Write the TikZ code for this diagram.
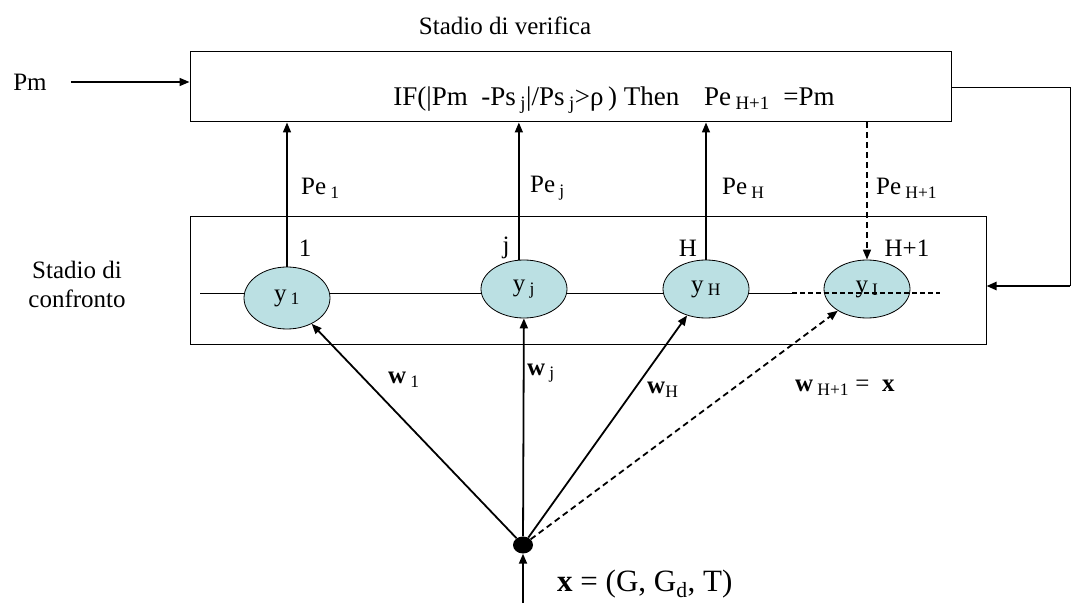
\documentclass[tikz,border=0pt]{standalone}
\usepackage{fontspec}
\setmainfont{Liberation Serif}
\usetikzlibrary{arrows.meta,shapes.geometric,calc}
\definecolor{cellfill}{RGB}{187,224,227}
\begin{document}
\begin{tikzpicture}[x=1pt,y=-1pt,
  lbl/.style={font=\fontsize{25}{29}\selectfont, inner sep=0pt},
  box/.style={draw, line width=1pt, inner sep=0pt},
  cell/.style={ellipse, draw, line width=0.8pt, fill=cellfill, minimum width=86pt, minimum height=58pt, inner sep=0pt, font=\fontsize{25}{29}\selectfont},
  arr/.style={line width=1.8pt, -{Triangle[length=10pt,width=8pt]}},
  darr/.style={arr, dash pattern=on 6pt off 4pt},
]
\useasboundingbox (0,0) rectangle (1072,604);
% boxes
\node[box, minimum width=761pt, minimum height=70pt] (ver) at (570.5,87) {};
\node[box, minimum width=796pt, minimum height=128pt] (conf) at (588,281) {};
% titles
\node[lbl] (tver) at (505,26) {Stadio di verifica};
\node[lbl, align=center] (tconf) at (77,284) {Stadio di\\confronto};
\node[lbl] (pm) at (30,82) {Pm};
\node[lbl, font=\fontsize{27}{31}\selectfont] (eq) at (614,100) {IF(|Pm\enspace -Ps\,\textsubscript{j}|/Ps\,\textsubscript{j}>ρ\,) Then\enspace\, Pe\,\textsubscript{H+1}\enspace =Pm};
% horizontal line
\coordinate (h0) at (200,293);
\coordinate (h1) at (792,293);
\coordinate (h2) at (940,293);
\draw[line width=0.8pt] (h0) -- (h1);
% cells
\node[cell, minimum height=62pt] (y1) at (287,298) {y\,\textsubscript{1}};
\node[cell] (yj) at (524,289) {y\,\textsubscript{j}};
\node[cell] (yH) at (706,289) {y\,\textsubscript{H}};
\node[cell] (yI) at (867,289) {y\,\textsubscript{I}};
\draw[line width=1.6pt, dash pattern=on 5pt off 3pt] (h1) -- (h2);
% indices
\node[lbl] (n1) at (305,248) {1};
\node[lbl] (nj) at (506,248) {j};
\node[lbl] (nH) at (688,248) {H};
\node[lbl] (nI) at (907,248) {H+1};
% upward arrows
\draw[arr, line width=1.6pt] (y1.north) -- (y1.north |- ver.south);
\draw[arr, line width=1.6pt] (yj.100) -- (yj.100 |- ver.south);
\draw[arr, line width=1.6pt] (yH.north) -- (yH.north |- ver.south);
\draw[darr, line width=1.6pt] (yI.north |- ver.south) -- (yI.north);
% Pe labels
\node[lbl, anchor=west] (pe1) at (301,188) {Pe\,\textsubscript{1}};
\node[lbl, anchor=west] (pej) at (530,188) {Pe\,\textsubscript{j}};
\node[lbl, anchor=west] (peH) at (722,188) {Pe\,\textsubscript{H}};
\node[lbl, anchor=west] (peI) at (876,188) {Pe\,\textsubscript{H+1}};
% Pm input
\draw[arr, line width=1.5pt, shorten <=24pt] (pm.east) -- (pm.east -| ver.west);
% feedback
\coordinate (fb1) at (1070,88);
\coordinate (fb2) at (1070,286);
\draw[line width=1pt] (ver.east |- fb1) -- (fb1) -- (fb2);
\draw[arr, line width=2.4pt] (fb2) -- (fb2 -| conf.east);
% source
\node[ellipse, fill, minimum width=20pt, minimum height=17pt, inner sep=0pt] (src) at (523,545) {};
\coordinate (in) at (523,603);
\draw[arr] (in) -- (src.south);
\node[lbl, anchor=west, font=\fontsize{31}{35}\selectfont] (xl) at (557,584) {\textbf{x} = (G, G\textsubscript{d}, T)};
\draw[arr] (src) -- (y1);
\draw[arr] (src) -- (yj);
\draw[arr] (src) -- (yH);
\draw[darr] (src) -- (yI);
% w labels
\node[lbl, anchor=west] (w1) at (388,380) {\textbf{w}\,\textsubscript{1}};
\node[lbl, anchor=west] (wj) at (527,373) {\textbf{w}\,\textsubscript{j}};
\node[lbl, anchor=west] (wH) at (647,390) {\textbf{w}\textsubscript{H}};
\node[lbl, anchor=west] (wI) at (795,388) {\textbf{w}\,\textsubscript{H+1} = \ \textbf{x}};
\end{tikzpicture}
\end{document}
